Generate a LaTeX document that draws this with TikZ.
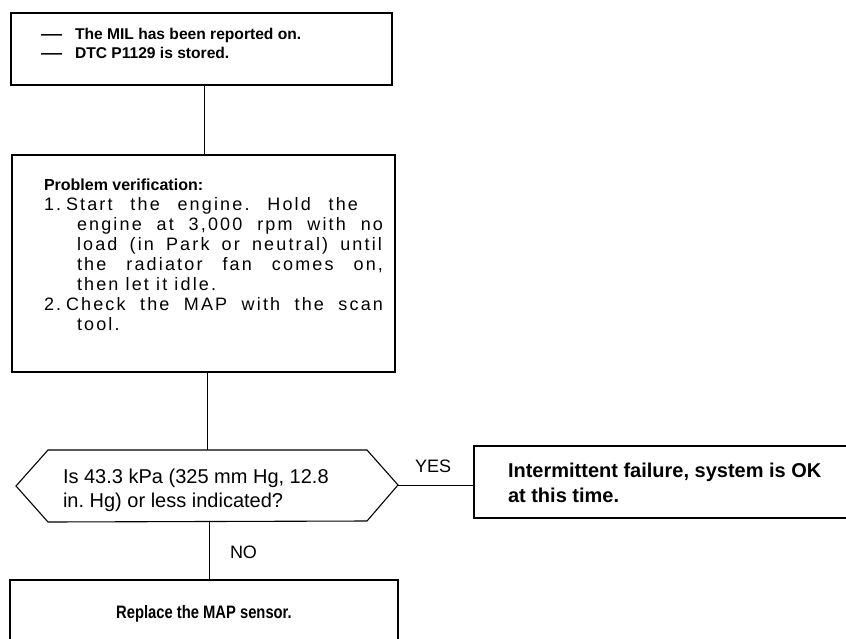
\documentclass[tikz,border=0pt]{standalone}
\usepackage{fontspec}
\setmainfont{Liberation Sans}
\newfontfamily\bodyfont[LetterSpace=12]{Liberation Sans}
\newfontfamily\narrowfont[FakeStretch=0.82]{Liberation Sans}
\begin{document}
\frenchspacing
\begin{tikzpicture}[x=1pt,y=-1pt]
\tikzset{
  box/.style={draw, line width=1.1pt, inner sep=0pt, outer sep=0pt},
  link/.style={line width=0.8pt},
  txt/.style={anchor=base west, inner sep=0pt, outer sep=0pt},
  headfont/.style={font=\bfseries\fontsize{15.6}{18}\selectfont},
  bodyf/.style={font=\bodyfont\fontsize{18}{20}\selectfont\frenchspacing},
  bigfont/.style={font=\fontsize{20}{24}\selectfont},
  bigbold/.style={font=\bfseries\fontsize{20}{24}\selectfont},
  labfont/.style={font=\fontsize{18}{22}\selectfont}
}
\useasboundingbox (0,0) rectangle (846,638);
\fill[white] (0,0) rectangle (846,638);

% boxes
\node[box, minimum width=381pt, minimum height=72pt] (b1) at (201.5,49) {};
\node[box, minimum width=383pt, minimum height=217pt] (b2) at (203.5,263.5) {};
\draw[box] (16,486) -- (48,450) -- (367,450) -- (398,485) -- (367,521) -- (48,522) -- cycle;
\coordinate (hexN) at (207,450);
\coordinate (hexE) at (398,485);
\coordinate (hexS) at (209,522);
\node[box, minimum width=376pt, minimum height=72pt] (b3) at (662,482) {};
\node[box, minimum width=388pt, minimum height=70pt] (b4) at (204,615) {};

% connectors
\draw[link] (b1.south -| 204,0) -- (b2.north -| 204,0);
\draw[link] (b2.south -| hexN) -- (hexN);
\draw[link] (hexE) -- (hexE -| b3.west);
\draw[link] (hexS) -- (hexS |- b4.north);

% box 1 text
\node[txt, headfont] (d1) at (41,39) {\scalebox{1.35}[1]{—}};
\node[txt, headfont] (t1) at (75,39) {The MIL has been reported on.};
\node[txt, headfont] (d2) at (41,58) {\scalebox{1.35}[1]{—}};
\node[txt, headfont] (t2) at (75,58) {DTC P1129 is stored.};

% box 2 text
\node[txt, font=\bfseries\fontsize{16}{18}\selectfont] (pv) at (44,190) {Problem verification:};
\node[txt, bodyf] (n1) at (44,210) {1.};
\node[txt, bodyf] (s1) at (66,210) {\makebox[292pt][s]{Start the engine. Hold the}};
\node[txt, bodyf] (s2) at (77,230) {\makebox[306pt][s]{engine at 3,000 rpm with no}};
\node[txt, bodyf] (s3) at (77,250) {\makebox[305pt][s]{load (in Park or neutral) until}};
\node[txt, bodyf] (s4) at (77,270) {\makebox[306pt][s]{the radiator fan comes on,}};
\node[txt, bodyf] (s5) at (77,290) {then let it idle.};
\node[txt, bodyf] (n2) at (44,310) {2.};
\node[txt, bodyf] (s6) at (66,310) {\makebox[317pt][s]{Check the MAP with the scan}};
\node[txt, bodyf] (s7) at (77,330) {tool.};

% decision text
\node[txt, bigfont] (q1) at (63,483) {Is 43.3 kPa (325 mm Hg, 12.8};
\node[txt, bigfont] (q2) at (63,507) {in. Hg) or less indicated?};
\node[txt, labfont] (yes) at (415,472) {YES};
\node[txt, labfont] (no) at (230,558) {NO};

% result texts
\node[txt, bigbold] (r1) at (508,477) {Intermittent failure, system is OK};
\node[txt, bigbold] (r2) at (508,502) {at this time.};
\node[anchor=base, inner sep=0pt, font=\narrowfont\bfseries\fontsize{18}{20}\selectfont] (rp) at (204,618) {Replace the MAP sensor.};
\end{tikzpicture}
\end{document}
